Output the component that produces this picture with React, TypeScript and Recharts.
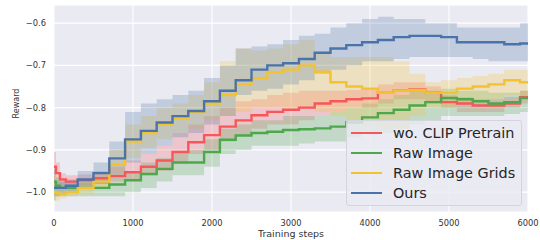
import React from 'react'
import {
  ComposedChart,
  Area,
  Line,
  XAxis,
  YAxis,
  CartesianGrid,
} from 'recharts'

const steps = [
  0, 50, 100, 200, 400, 600, 800, 1000, 1200, 1400, 1600, 1800, 2000, 2200, 2400, 2600,
  2800, 3000, 3200, 3400, 3600, 3800, 4000, 4200, 4400, 4600, 4800, 5000, 5200, 5400,
  5600, 5800, 6000,
]

// wo. CLIP Pretrain
const redMean = [
  -0.94, -0.955, -0.97, -0.975, -0.972, -0.967, -0.962, -0.953, -0.94, -0.925, -0.905,
  -0.882, -0.865, -0.845, -0.83, -0.818, -0.81, -0.805, -0.8, -0.79, -0.785, -0.78,
  -0.778, -0.765, -0.76, -0.757, -0.765, -0.787, -0.79, -0.795, -0.795, -0.79, -0.775,
]
const redLow = [
  -0.97, -0.985, -0.99, -0.99, -0.985, -0.98, -0.975, -0.97, -0.96, -0.95, -0.93, -0.91,
  -0.9, -0.88, -0.865, -0.85, -0.84, -0.84, -0.83, -0.82, -0.81, -0.8, -0.8, -0.79, -0.78,
  -0.78, -0.79, -0.8, -0.81, -0.81, -0.81, -0.8, -0.79,
]
const redHigh = [
  -0.905, -0.93, -0.955, -0.96, -0.958, -0.95, -0.94, -0.925, -0.91, -0.89, -0.86, -0.84,
  -0.82, -0.8, -0.785, -0.78, -0.77, -0.765, -0.76, -0.76, -0.76, -0.758, -0.755, -0.745,
  -0.74, -0.74, -0.75, -0.77, -0.775, -0.78, -0.78, -0.775, -0.76,
]

// Raw Image
const greenMean = [
  -0.975, -0.985, -0.99, -0.99, -0.99, -0.99, -0.982, -0.972, -0.957, -0.945, -0.93, -0.93,
  -0.905, -0.876, -0.866, -0.86, -0.857, -0.853, -0.851, -0.849, -0.845, -0.835, -0.823,
  -0.813, -0.805, -0.795, -0.787, -0.777, -0.78, -0.785, -0.79, -0.787, -0.777,
]
const greenLow = [
  -1.02, -1.01, -1.01, -1.01, -1.01, -1.01, -1.01, -1.0, -0.99, -0.975, -0.96, -0.96, -0.94,
  -0.91, -0.9, -0.89, -0.89, -0.89, -0.885, -0.88, -0.88, -0.87, -0.86, -0.86, -0.85, -0.84,
  -0.83, -0.82, -0.82, -0.82, -0.82, -0.815, -0.81,
]
const greenHigh = [
  -0.945, -0.965, -0.975, -0.978, -0.978, -0.975, -0.965, -0.95, -0.93, -0.92, -0.905, -0.9,
  -0.875, -0.85, -0.84, -0.83, -0.83, -0.82, -0.82, -0.82, -0.81, -0.8, -0.79, -0.78, -0.77,
  -0.76, -0.76, -0.755, -0.76, -0.76, -0.765, -0.765, -0.76,
]

// Raw Image Grids
const yellowMean = [
  -1.0, -1.003, -1.005, -1.0, -0.99, -0.975, -0.935, -0.88, -0.86, -0.84, -0.825, -0.81,
  -0.79, -0.77, -0.745, -0.73, -0.716, -0.71, -0.7, -0.715, -0.74, -0.75, -0.755, -0.765,
  -0.76, -0.758, -0.765, -0.765, -0.755, -0.75, -0.745, -0.735, -0.74,
]
const yellowLow = [
  -1.02, -1.02, -1.015, -1.01, -1.005, -0.995, -0.965, -0.92, -0.895, -0.875, -0.86, -0.85,
  -0.83, -0.82, -0.81, -0.8, -0.8, -0.8, -0.8, -0.81, -0.82, -0.83, -0.84, -0.85, -0.85,
  -0.82, -0.8, -0.8, -0.79, -0.785, -0.78, -0.77, -0.77,
]
const yellowHigh = [
  -0.96, -0.98, -0.99, -0.985, -0.975, -0.955, -0.9, -0.84, -0.82, -0.8, -0.79, -0.77, -0.74,
  -0.69, -0.66, -0.665, -0.66, -0.65, -0.64, -0.67, -0.68, -0.68, -0.68, -0.68, -0.69, -0.72,
  -0.74, -0.735, -0.73, -0.725, -0.72, -0.71, -0.71,
]

// Ours
const blueMean = [
  -0.99, -0.99, -0.99, -0.985, -0.97, -0.955, -0.92, -0.875, -0.855, -0.835, -0.82, -0.808,
  -0.785, -0.76, -0.735, -0.71, -0.7, -0.695, -0.685, -0.67, -0.66, -0.652, -0.645, -0.64,
  -0.633, -0.63, -0.63, -0.633, -0.645, -0.645, -0.645, -0.65, -0.648,
]
const blueLow = [
  -1.01, -1.01, -1.005, -1.0, -0.99, -0.98, -0.96, -0.93, -0.91, -0.89, -0.87, -0.86, -0.84,
  -0.82, -0.77, -0.76, -0.755, -0.745, -0.735, -0.72, -0.71, -0.7, -0.69, -0.69, -0.685,
  -0.68, -0.68, -0.68, -0.68, -0.685, -0.69, -0.69, -0.69,
]
const blueHigh = [
  -0.97, -0.975, -0.975, -0.97, -0.95, -0.93, -0.88, -0.81, -0.79, -0.78, -0.77, -0.76, -0.73,
  -0.7, -0.66, -0.655, -0.65, -0.64, -0.63, -0.625, -0.61, -0.6, -0.59, -0.585, -0.59, -0.59,
  -0.6, -0.6, -0.61, -0.61, -0.61, -0.61, -0.6,
]

const xTicks = [0, 1000, 2000, 3000, 4000, 5000, 6000]
const yTicks = [-1.0, -0.9, -0.8, -0.7, -0.6]

const series = [
  { key: 'red', name: 'wo. CLIP Pretrain', color: '#f8575a' },
  { key: 'green', name: 'Raw Image', color: '#4ea74b' },
  { key: 'yellow', name: 'Raw Image Grids', color: '#f2c230' },
  { key: 'blue', name: 'Ours', color: '#4a74a9' },
]

const data = steps.map((s, i) => ({
  step: s,
  red: redMean[i],
  redBand: [redLow[i], redHigh[i]],
  green: greenMean[i],
  greenBand: [greenLow[i], greenHigh[i]],
  yellow: yellowMean[i],
  yellowBand: [yellowLow[i], yellowHigh[i]],
  blue: blueMean[i],
  blueBand: [blueLow[i], blueHigh[i]],
}))

const font = '"DejaVu Sans", sans-serif'
const fmt = (v: number) => v.toFixed(1).replace('-', '\u2212')

export default function App() {
  return (
    <div style={{ position: 'absolute', left: 0, top: 0, width: 540, height: 240, fontFamily: font }}>
      <ComposedChart
        width={540}
        height={240}
        data={data}
        margin={{ top: 5, right: 12, bottom: 0, left: 0 }}
      >
        <CartesianGrid fill="#eaeaf2" stroke="#ffffff" strokeWidth={1.1} />
        <XAxis
          dataKey="step"
          type="number"
          domain={[0, 6000]}
          ticks={xTicks}
          axisLine={false}
          tickLine={false}
          height={28}
          tick={{ fontSize: 8.3, fill: '#333', fontFamily: font }}
          label={{
            value: 'Training steps',
            position: 'insideBottom',
            offset: 3,
            style: { fontSize: 9.5, fill: '#333', fontFamily: font },
          }}
        />
        <YAxis
          type="number"
          domain={[-1.047, -0.557]}
          allowDataOverflow
          ticks={yTicks}
          tickFormatter={fmt}
          axisLine={false}
          tickLine={false}
          width={54}
          tick={{ fontSize: 8.3, fill: '#333', fontFamily: font }}
          label={{
            value: 'Reward',
            angle: -90,
            position: 'insideLeft',
            offset: 16,
            dy: -5,
            style: { fontSize: 8, fill: '#333', fontFamily: font, textAnchor: 'middle' },
          }}
        />
        {series.map((s) => (
          <Area
            key={s.key + 'Band'}
            dataKey={s.key + 'Band'}
            type="step"
            stroke="none"
            fill={s.color}
            fillOpacity={0.25}
            isAnimationActive={false}
            activeDot={false}
          />
        ))}
        {series.map((s) => (
          <Line
            key={s.key}
            dataKey={s.key}
            name={s.name}
            type="step"
            stroke={s.color}
            strokeWidth={2.4}
            dot={false}
            activeDot={false}
            isAnimationActive={false}
          />
        ))}
      </ComposedChart>
      <div
        style={{
          position: 'absolute',
          left: 346,
          top: 120,
          width: 176,
          height: 86,
          boxSizing: 'border-box',
          background: 'rgba(234,234,242,0.8)',
          border: '1px solid #d4d4dc',
          borderRadius: 3,
        }}
      >
        {series.map((s, i) => (
          <div
            key={s.key}
            style={{
              position: 'absolute',
              left: 4,
              top: 2 + i * 20,
              height: 20,
              display: 'flex',
              alignItems: 'center',
              whiteSpace: 'nowrap',
            }}
          >
            <div style={{ width: 31, height: 2.4, background: s.color }} />
            <span style={{ marginLeft: 11, fontSize: 14.4, color: '#262626', fontFamily: font }}>
              {s.name}
            </span>
          </div>
        ))}
      </div>
    </div>
  )
}
